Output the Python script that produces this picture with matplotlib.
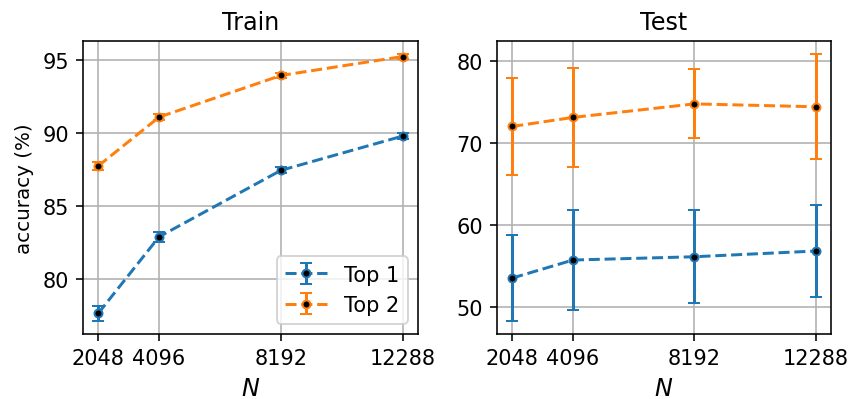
import numpy as np
import matplotlib
matplotlib.use("Agg")
import matplotlib.pyplot as plt

N = [2048, 4096, 8192, 12288]

# train accuracies (%) and std
train_top1 = [77.65, 82.9, 87.45, 89.8]
train_top1_err = [0.5, 0.35, 0.2, 0.2]
train_top2 = [87.75, 91.1, 93.95, 95.25]
train_top2_err = [0.25, 0.2, 0.15, 0.15]

# test accuracies (%) and std
test_top1 = [53.5, 55.7, 56.1, 56.8]
test_top1_err = [5.2, 6.1, 5.7, 5.65]
test_top2 = [72.0, 73.1, 74.75, 74.4]
test_top2_err = [5.95, 6.0, 4.2, 6.4]

fig = plt.figure(figsize=(6.0, 2.7907), dpi=143.333)
ax1 = fig.add_axes([0.0965, 0.1625, 0.3895, 0.7325])
ax2 = fig.add_axes([0.578, 0.1625, 0.388, 0.7325])


def plot_panel(ax, y1, e1, y2, e2, title):
    ax.errorbar(N, y1, yerr=e1, fmt='o--', color='tab:blue', capsize=3,
                markersize=4, markerfacecolor='black', markeredgecolor='tab:blue',
                label='Top 1')
    ax.errorbar(N, y2, yerr=e2, fmt='o--', color='tab:orange', capsize=3,
                markersize=4, markerfacecolor='black', markeredgecolor='tab:orange',
                label='Top 2')
    ax.set_xticks(N)
    ax.set_xticklabels([str(n) for n in N])
    ax.tick_params(labelsize=10.5)
    ax.set_xlabel('$N$', fontsize=12)
    ax.set_title(title, fontsize=12)
    ax.grid(True)


plot_panel(ax1, train_top1, train_top1_err, train_top2, train_top2_err, 'Train')
ax1.set_ylabel('accuracy (%)')
ax1.set_yticks([80, 85, 90, 95])
ax1.legend(loc='lower right', fontsize=10.5)

plot_panel(ax2, test_top1, test_top1_err, test_top2, test_top2_err, 'Test')
ax2.set_yticks([50, 60, 70, 80])

fig.savefig('out.png', dpi=143.333)
